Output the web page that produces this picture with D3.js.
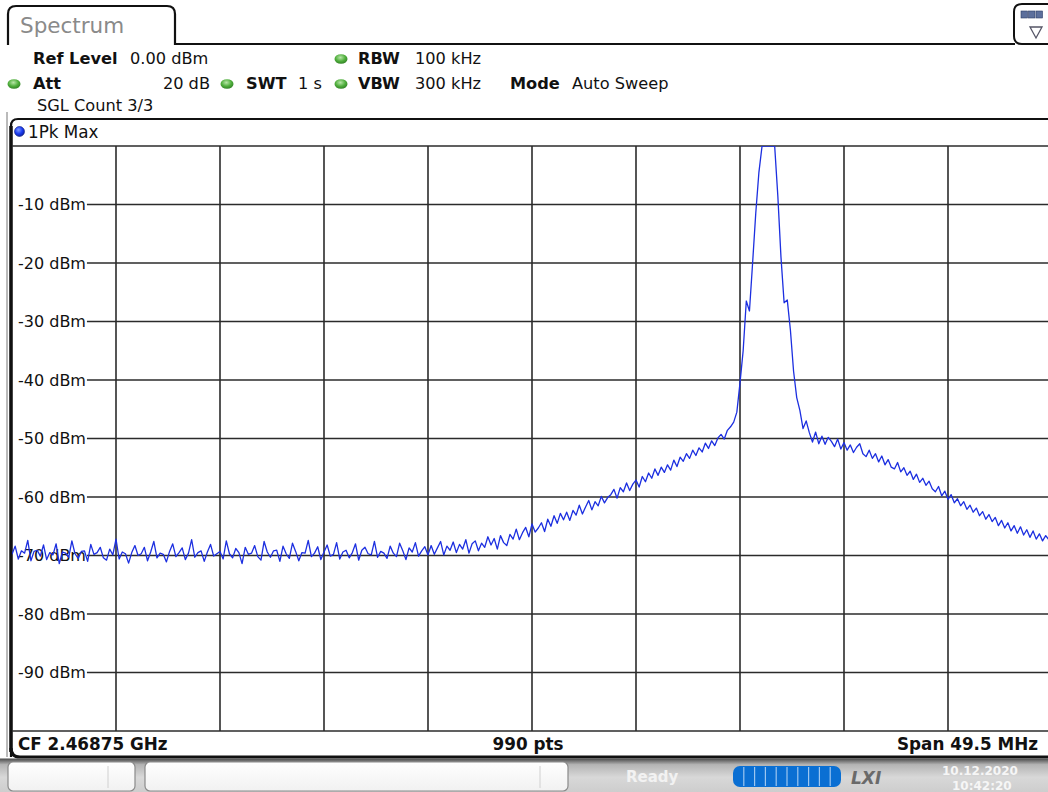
<!DOCTYPE html>
<html><head><meta charset="utf-8">
<script src="https://cdn.jsdelivr.net/npm/d3@7"></script>
<style>
html,body{margin:0;padding:0;background:#fff;}
svg{display:block;font-family:"DejaVu Sans",Verdana,sans-serif;}
</style></head>
<body>
<svg id="chart" width="1048" height="792"></svg>
<script>
// ---------- data ----------
const startMHz = -24.75;          // offset from CF
const stopMHz = 24.75;
const stepMHz = 0.15;             // sweep point spacing (displayed points)
const yTickValues = [-10, -20, -30, -40, -50, -60, -70, -80, -90];
const yTickLabels = ["-10 dBm", "-20 dBm", "-30 dBm", "-40 dBm", "-50 dBm", "-60 dBm", "-70 dBm", "-80 dBm", "-90 dBm"];
const xGridMHz = [-19.8, -14.85, -9.9, -4.95, 0, 4.95, 9.9, 14.85, 19.8];
const refLevel = 0;
const bottomLevel = -100;
// trace levels (dBm), one per sweep point
const levels = [
-69.8,-68.4,-70.6,-69.2,-69.6,-67.4,-70.9,-69.3,-69.1,-70.1,
-68.2,-70.7,-69.5,-69.9,-68.0,-71.4,-69.4,-69.6,-70.3,-67.5,
-69.7,-70.5,-69.3,-69.2,-71.0,-68.1,-69.8,-69.5,-68.6,-70.4,
-70.8,-68.9,-69.9,-67.2,-70.6,-69.4,-69.7,-71.3,-69.5,-68.3,
-70.0,-69.7,-68.6,-70.9,-69.4,-67.6,-70.4,-69.6,-69.8,-71.1,
-69.3,-68.0,-70.2,-69.5,-68.7,-70.7,-69.6,-67.3,-70.3,-69.5,
-69.2,-71.0,-69.4,-68.1,-70.1,-69.7,-69.3,-70.6,-67.5,-69.7,
-70.4,-68.8,-69.5,-71.4,-68.6,-69.8,-69.6,-68.3,-70.2,-70.8,
-67.6,-69.4,-70.3,-69.2,-69.1,-71.0,-68.4,-69.7,-70.5,-67.9,
-69.3,-70.9,-69.5,-69.6,-67.4,-70.2,-69.6,-68.5,-70.7,-69.4,
-68.2,-70.1,-69.8,-67.8,-70.6,-69.4,-69.1,-70.4,-69.5,-68.0,
-70.8,-69.1,-68.6,-69.7,-69.9,-67.6,-70.3,-69.3,-69.6,-70.5,
-68.4,-69.6,-70.2,-67.9,-69.2,-70.7,-68.7,-69.4,-67.8,-70.1,
-69.2,-68.5,-69.9,
-68.3,-69.8,-68.7,-67.6,-69.9,-68.4,-69.1,
-67.7,-69.5,-68.1,-68.9,-67.3,-69.6,-68.0,-67.5,-69.2,-67.9,
-68.6,-66.8,-68.2,-67.1,-68.9,-66.6,-67.8,-68.3,-66.4,-67.2,
-65.5,-67.3,-66.1,-65.2,-66.8,-64.6,-66.0,-65.3,-64.4,-65.9,
-63.8,-65.0,-63.2,-64.5,-62.8,-63.9,-62.6,-64.0,-62.3,-63.1,
-61.4,-62.9,-61.7,-60.6,-62.2,-60.8,-61.5,-59.9,-61.0,-60.1,
-59.6,-58.7,-60.2,-58.4,-59.1,-57.6,-58.9,-57.8,-57.1,-58.3,
-56.5,-57.4,-55.9,-56.8,-55.2,-56.3,-54.9,-55.8,-54.5,-55.4,
-53.7,-54.8,-53.2,-53.9,-52.6,-53.4,-52.0,-52.9,-51.6,-52.3,
-50.8,-51.7,-50.4,-51.2,-49.9,-49.3,-50.1,-48.6,-48.0,-47.2,
-45.5,-40.5,-35.0,-26.5,-28.2,-20.0,-11.5,-4.5,0,0,0,0,0,
-8.5,-19.0,-26.8,-26.3,-31.5,-38.5,-43.0,-45.2,-48.3,-47.0,
-49.0,-50.6,-48.9,-50.9,-49.6,-51.0,-49.8,-50.5,-51.4,-50.1,
-51.8,-50.7,-52.0,-51.1,-52.4,-51.5,-50.9,-52.6,-53.1,-52.0,
-53.4,-52.6,-54.0,-53.0,-54.5,-53.6,-54.9,-55.2,-54.1,-55.7,
-55.0,-56.3,-55.6,-57.0,-56.1,-57.5,-56.8,-58.0,-57.3,-58.6,
-59.1,-58.2,-59.8,-59.0,-60.4,-59.6,-61.0,-60.3,-61.5,-60.8,
-62.1,-61.4,-62.6,-61.9,-63.2,-62.5,-63.8,-63.0,-64.2,-63.5,
-64.9,-64.0,-65.3,-64.4,-65.8,-64.9,-66.2,-65.1,-66.5,-65.6,
-66.9,-65.8,-67.2,-66.3,-67.5,-66.6,-67.3,-66.9
];
// header texts
const tabTitle = "Spectrum";
const refLevelText = "0.00 dBm";
const attText = "20 dB";
const swtText = "1 s";
const rbwText = "100 kHz";
const vbwText = "300 kHz";
const modeText = "Auto Sweep";
const sglText = "SGL Count 3/3";
const traceLabel = "1Pk Max";
const cfText = "CF 2.46875 GHz";
const ptsText = "990 pts";
const spanText = "Span 49.5 MHz";
const dateText = "10.12.2020";
const timeText = "10:42:20";

// ---------- drawing ----------
const svg = d3.select("#chart");
const defs = svg.append("defs");

const x = d3.scaleLinear().domain([startMHz, stopMHz]).range([12, 1052]);
const y = d3.scaleLinear().domain([bottomLevel, refLevel]).range([731, 146]);

// gradients
const gG = defs.append("radialGradient").attr("id","gdot").attr("cx","45%").attr("cy","35%").attr("r","70%");
gG.append("stop").attr("offset","0%").attr("stop-color","#b8e6a8");
gG.append("stop").attr("offset","55%").attr("stop-color","#4fae3c");
gG.append("stop").attr("offset","100%").attr("stop-color","#2d7a22");
const bG = defs.append("radialGradient").attr("id","bdot").attr("cx","40%").attr("cy","35%").attr("r","70%");
bG.append("stop").attr("offset","0%").attr("stop-color","#7f9bff");
bG.append("stop").attr("offset","55%").attr("stop-color","#1b3cf0");
bG.append("stop").attr("offset","100%").attr("stop-color","#0c1f9a");
const sG = defs.append("linearGradient").attr("id","sbar").attr("x1",0).attr("y1",0).attr("x2",0).attr("y2",1);
sG.append("stop").attr("offset","0%").attr("stop-color","#4a4a4a");
sG.append("stop").attr("offset","18%").attr("stop-color","#b4b4b4");
sG.append("stop").attr("offset","55%").attr("stop-color","#d8d8d8");
sG.append("stop").attr("offset","100%").attr("stop-color","#cdcdcd");
const boxG = defs.append("linearGradient").attr("id","boxg").attr("x1",0).attr("y1",0).attr("x2",0).attr("y2",1);
boxG.append("stop").attr("offset","0%").attr("stop-color","#ffffff");
boxG.append("stop").attr("offset","100%").attr("stop-color","#f1f1f1");
defs.append("clipPath").attr("id","plotclip").append("rect")
  .attr("x",12).attr("y",y(refLevel)).attr("width",1040).attr("height",y(bottomLevel)-y(refLevel));

// tab
svg.append("path")
  .attr("d","M8,45 L8,14 Q8,6 16,6 L167,6 Q175,6 175,14 L175,44 L1015,44")
  .attr("fill","none").attr("stroke","#111").attr("stroke-width",2.2);
svg.append("path")
  .attr("d","M1060,4 L1022,4 Q1014,4 1014,12 L1014,36 Q1014,44 1022,44 L1060,44")
  .attr("fill","#fff").attr("stroke","#111").attr("stroke-width",2);
// icon
[0,1,2].forEach(i=>{
  svg.append("rect").attr("x",1021+i*7.5).attr("y",11).attr("width",6.5).attr("height",7)
    .attr("fill","#5c6f9c").attr("stroke","#2c3c66").attr("stroke-width",0.6);
});
svg.append("path").attr("d","M1030,27 L1042,27 L1036,38 Z").attr("fill","#fff").attr("stroke","#556").attr("stroke-width",1.3);

svg.append("text").attr("x",20).attr("y",33).attr("font-size",21.5).attr("fill","#8a8a8a").text(tabTitle);

// header
const hdr = svg.append("g").attr("font-size",16.2).attr("fill","#111");
function hText(xp, yp, t, bold, anchor){
  hdr.append("text").attr("x",xp).attr("y",yp).attr("font-weight",bold?"bold":"normal")
    .attr("text-anchor",anchor||"start").attr("fill","#111").text(t);
}
function gdot(cx, cy){
  svg.append("ellipse").attr("cx",cx).attr("cy",cy).attr("rx",6.5).attr("ry",4.8).attr("fill","url(#gdot)");
}
hText(33,64,"Ref Level",true);
hText(130,64,refLevelText,false);
gdot(341,59); hText(358,64,"RBW",true); hText(415,64,rbwText,false);
gdot(14,84); hText(33,89,"Att",true); hText(210,89,attText,false,"end");
gdot(227,84); hText(246,89,"SWT",true); hText(298,89,swtText,false);
gdot(341,84); hText(358,89,"VBW",true); hText(415,89,vbwText,false);
hText(510,89,"Mode",true); hText(572,89,modeText,false);
hText(37,111,sglText,false);

// panel frame
svg.append("line").attr("x1",7).attr("x2",7).attr("y1",112).attr("y2",757).attr("stroke","#777").attr("stroke-width",1);
svg.append("path").attr("d","M11,757 L11,126 Q11,119 18,119 L1052,119")
  .attr("fill","none").attr("stroke","#111").attr("stroke-width",2.2);
svg.append("line").attr("x1",11).attr("x2",11).attr("y1",126).attr("y2",752).attr("stroke","#111").attr("stroke-width",3.5);
svg.append("path").attr("d","M11,748 Q11,757 20,757 L1052,757").attr("fill","none").attr("stroke","#111").attr("stroke-width",3.2);

// trace label
svg.append("circle").attr("cx",19.5).attr("cy",131.5).attr("r",5).attr("fill","url(#bdot)").attr("stroke","#0b1a80").attr("stroke-width",0.6);
svg.append("text").attr("x",28).attr("y",137.5).attr("font-size",16.8).attr("fill","#111").text(traceLabel);

// grid
const grid = svg.append("g").attr("stroke","#2b2b2b").attr("stroke-width",1.6);
grid.append("line").attr("x1",12).attr("x2",1052).attr("y1",y(refLevel)).attr("y2",y(refLevel));
grid.append("line").attr("x1",12).attr("x2",1052).attr("y1",y(bottomLevel)).attr("y2",y(bottomLevel));
grid.selectAll("line.v").data(xGridMHz).enter().append("line").attr("class","v")
  .attr("x1",d=>x(d)).attr("x2",d=>x(d)).attr("y1",y(refLevel)).attr("y2",y(bottomLevel));

const labG = svg.append("g").attr("font-size",16).attr("fill","#111");
yTickValues.forEach((v,i)=>{
  const t = labG.append("text").attr("x",18).attr("y",y(v)).attr("dy","0.36em").text(yTickLabels[i]);
  const w = t.node().getComputedTextLength();
  grid.append("line").attr("x1",18+w+1).attr("x2",1052).attr("y1",y(v)).attr("y2",y(v));
});

// trace
const pts = levels.map((v,i)=>[startMHz + i*stepMHz, v]);
const line = d3.line().x(d=>x(d[0])).y(d=>y(Math.min(refLevel, Math.max(bottomLevel,d[1]))));
svg.append("path").datum(pts).attr("clip-path","url(#plotclip)")
  .attr("d",line).attr("fill","none").attr("stroke","#1c2fe0").attr("stroke-width",1.3).attr("stroke-linejoin","round");

// footer
const ft = svg.append("g").attr("font-size",16.8).attr("font-weight","bold").attr("fill","#111");
ft.append("text").attr("x",18).attr("y",749.5).text(cfText);
ft.append("text").attr("x",528).attr("y",749.5).attr("text-anchor","middle").text(ptsText);
ft.append("text").attr("x",1038).attr("y",749.5).attr("text-anchor","end").text(spanText);

// status bar
svg.append("rect").attr("x",0).attr("y",758.5).attr("width",1048).attr("height",34).attr("fill","url(#sbar)");
svg.append("rect").attr("x",8).attr("y",762).attr("width",127).attr("height",29).attr("rx",5)
  .attr("fill","url(#boxg)").attr("stroke","#8a8a8a").attr("stroke-width",1.2);
svg.append("line").attr("x1",108).attr("x2",108).attr("y1",766).attr("y2",788).attr("stroke","#d0d0d0");
svg.append("rect").attr("x",145).attr("y",762).attr("width",423).attr("height",29).attr("rx",5)
  .attr("fill","url(#boxg)").attr("stroke","#8a8a8a").attr("stroke-width",1.2);
svg.append("line").attr("x1",540).attr("x2",540).attr("y1",766).attr("y2",788).attr("stroke","#d0d0d0");
svg.append("text").attr("x",626).attr("y",782).attr("font-size",15).attr("font-weight","bold").attr("fill","#f2f2f2").text("Ready");
svg.append("rect").attr("x",733).attr("y",766).attr("width",108).attr("height",21).attr("rx",7).attr("fill","#0a6fd3");
d3.range(1,10).forEach(i=>{
  svg.append("line").attr("x1",733+i*10.8).attr("x2",733+i*10.8).attr("y1",767).attr("y2",786).attr("stroke","#9cc6f0").attr("stroke-width",1.2);
});
svg.append("text").attr("x",851).attr("y",784).attr("font-size",17).attr("font-weight","bold").attr("font-style","italic").attr("fill","#6a6a6a").text("LXI");
svg.append("text").attr("x",942).attr("y",775).attr("font-size",12).attr("font-weight","bold").attr("fill","#f6f6f6").text(dateText);
svg.append("text").attr("x",952).attr("y",790).attr("font-size",12).attr("font-weight","bold").attr("fill","#f6f6f6").text(timeText);
</script>
</body></html>
